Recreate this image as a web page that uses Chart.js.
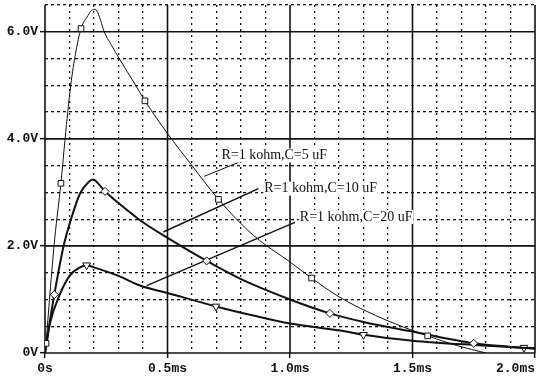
<!DOCTYPE html>
<html>
<head>
<meta charset="utf-8">
<script src="https://cdn.jsdelivr.net/npm/chart.js@4/dist/chart.umd.min.js"></script>
<style>
  html, body { margin: 0; padding: 0; background: #fff; }
  #Wrap { width: 547px; height: 385px; }
</style>
</head>
<body>
<div id="Wrap"><canvas id="RcChart" width="547" height="385"></canvas></div>
<script>
// time in ms, voltage in V
const timeC5 = [0, 0.004, 0.02, 0.04, 0.065, 0.082, 0.105, 0.125, 0.147, 0.175, 0.19, 0.204, 0.215, 0.228, 0.24, 0.27, 0.303, 0.37, 0.408, 0.5, 0.6, 0.708, 0.85, 1.0, 1.088, 1.2, 1.35, 1.5, 1.562, 1.68, 1.8];
const voltC5 = [0, 0.18, 1.1, 2.15, 3.17, 4.0, 5.0, 5.6, 6.06, 6.3, 6.4, 6.42, 6.36, 6.2, 6.02, 5.76, 5.5, 5.0, 4.71, 4.1, 3.5, 2.87, 2.2, 1.7, 1.4, 1.05, 0.7, 0.42, 0.32, 0.14, 0.0];
const markC5 = [0.004, 0.065, 0.147, 0.408, 0.708, 1.088, 1.562];

const timeC10 = [0, 0.02, 0.038, 0.075, 0.109, 0.143, 0.177, 0.197, 0.22, 0.245, 0.3, 0.388, 0.5, 0.66, 0.8, 1.0, 1.163, 1.3, 1.5, 1.75, 2.0];
const voltC10 = [0, 0.6, 1.09, 1.98, 2.54, 2.98, 3.19, 3.24, 3.15, 3.02, 2.8, 2.48, 2.15, 1.72, 1.38, 1.0, 0.74, 0.58, 0.4, 0.18, 0.08];
const markC10 = [0.038, 0.245, 0.66, 1.163, 1.75];

const timeC20 = [0, 0.02, 0.061, 0.102, 0.143, 0.17, 0.2, 0.3, 0.388, 0.5, 0.698, 0.85, 1.0, 1.204, 1.3, 1.5, 1.75, 1.955, 2.0];
const voltC20 = [0, 0.55, 1.1, 1.45, 1.6, 1.64, 1.6, 1.44, 1.26, 1.12, 0.87, 0.7, 0.55, 0.42, 0.34, 0.23, 0.15, 0.1, 0.09];
const markC20 = [0.17, 0.698, 1.3, 1.955];

const curveLabels = ["R=1 kohm,C=5 uF", "R=1 kohm,C=10 uF", "R=1 kohm,C=20 uF"];
const leaderTime = [[0.65, 0.79], [0.483, 0.871], [0.415, 1.02]];
const leaderVolt = [[3.3, 3.56], [2.26, 3.07], [1.26, 2.44]];
const labelTime = [0.72, 0.895, 1.04];
const labelVolt = [3.69, 3.07, 2.54];

const xTickLabels = { 0: "0s", 0.5: "0.5ms", 1: "1.0ms", 1.5: "1.5ms", 2: "2.0ms     " };
const yTickLabels = { 0: "0V", 2: "2.0V", 4: "4.0V", 6: "6.0V" };
const xMajor = [0, 0.5, 1, 1.5, 2];
const yMajor = [0, 2, 4, 6];

const ink = "#111";

function toPoints(times, volts) {
  return times.map((t, i) => ({ x: t, y: volts[i] }));
}

function isMajor(value, step) {
  const r = value / step;
  return Math.abs(r - Math.round(r)) < 1e-6;
}

function markerRadius(marks, size) {
  return (ctx) => {
    const p = ctx.raw;
    if (!p) return 0;
    return marks.some((m) => Math.abs(m - p.x) < 1e-6) ? size : 0;
  };
}

function curve(times, volts, marks, width, style, size, rotation) {
  return {
    data: toPoints(times, volts),
    borderColor: ink,
    borderWidth: width,
    backgroundColor: "#fff",
    pointStyle: style,
    pointRotation: rotation,
    pointRadius: markerRadius(marks, size),
    pointBorderColor: ink,
    pointBorderWidth: 1,
    pointBackgroundColor: "#fff",
    cubicInterpolationMode: "monotone",
    fill: false,
  };
}

const leaderSets = leaderTime.map((ts, i) => ({
  data: toPoints(ts, leaderVolt[i]),
  borderColor: ink,
  borderWidth: i === 0 ? 1 : 1.4,
  pointRadius: 0,
  fill: false,
}));

const majorGrid = {
  id: "majorGrid",
  beforeDatasetsDraw(chart) {
    const { ctx, chartArea: a, scales } = chart;
    ctx.save();
    ctx.strokeStyle = ink;
    ctx.lineWidth = 1.6;
    ctx.setLineDash([]);
    xMajor.forEach((v) => {
      const px = scales.x.getPixelForValue(v);
      ctx.beginPath();
      ctx.moveTo(px, a.top);
      ctx.lineTo(px, a.bottom);
      ctx.stroke();
    });
    yMajor.forEach((v) => {
      const py = scales.y.getPixelForValue(v);
      ctx.beginPath();
      ctx.moveTo(a.left, py);
      ctx.lineTo(a.right, py);
      ctx.stroke();
    });
    ctx.restore();
  },
};

const curveText = {
  id: "curveText",
  afterDatasetsDraw(chart) {
    const { ctx, scales } = chart;
    ctx.save();
    ctx.font = "14px 'Liberation Serif', serif";
    ctx.textBaseline = "middle";
    ctx.textAlign = "left";
    curveLabels.forEach((txt, i) => {
      const px = scales.x.getPixelForValue(labelTime[i]);
      const py = scales.y.getPixelForValue(labelVolt[i]);
      ctx.fillStyle = "#fff";
      const w = ctx.measureText(txt).width;
      ctx.fillRect(px - 1, py - 7, w + 2, 14);
      ctx.fillStyle = ink;
      ctx.fillText(txt, px, py);
    });
    ctx.restore();
  },
};

const tickFont = { family: "'Liberation Mono', monospace", size: 13, weight: "bold" };

new Chart(document.querySelector("#RcChart"), {
  type: "line",
  data: {
    datasets: [
      curve(timeC5, voltC5, markC5, 1, "rect", 4, 0),
      curve(timeC10, voltC10, markC10, 2, "rectRot", 4, 0),
      curve(timeC20, voltC20, markC20, 2, "triangle", 4.5, 180),
      ...leaderSets,
    ],
  },
  options: {
    responsive: false,
    animation: false,
    layout: { padding: { top: 5, right: 12, left: 0, bottom: 0 } },
    plugins: { legend: { display: false }, tooltip: { enabled: false } },
    scales: {
      x: {
        type: "linear",
        min: 0,
        max: 2,
        afterFit: (scale) => {
          scale.height = 32;
          scale.paddingLeft = 0;
          scale.paddingRight = 0;
        },
        ticks: {
          stepSize: 0.1,
          autoSkip: false,
          maxRotation: 0,
          padding: 3,
          color: ink,
          font: tickFont,
          callback: (v) => (isMajor(v, 0.5) ? xTickLabels[Math.round(v * 2) / 2] : ""),
        },
        grid: {
          color: (c) => (isMajor(c.tick.value, 0.5) ? "rgba(0,0,0,0)" : ink),
          lineWidth: 1.3,
          tickLength: 5,
          tickColor: (c) => (isMajor(c.tick.value, 0.5) ? ink : "rgba(0,0,0,0)"),
          tickWidth: 1.5,
        },
        border: { display: false, dash: [2, 4] },
      },
      y: {
        min: 0,
        max: 6.5,
        afterFit: (scale) => {
          scale.width = 45;
          scale.paddingTop = 0;
          scale.paddingBottom = 0;
        },
        ticks: {
          stepSize: 0.5,
          autoSkip: false,
          padding: 2,
          color: ink,
          font: tickFont,
          callback: (v) => (isMajor(v, 2) ? yTickLabels[Math.round(v)] : ""),
        },
        grid: {
          color: (c) => (isMajor(c.tick.value, 2) ? "rgba(0,0,0,0)" : ink),
          lineWidth: 1.3,
          tickLength: 5,
          tickColor: (c) => (isMajor(c.tick.value, 2) ? ink : "rgba(0,0,0,0)"),
          tickWidth: 1.5,
        },
        border: { display: false, dash: [3, 3] },
      },
    },
  },
  plugins: [majorGrid, curveText],
});
</script>
</body>
</html>
